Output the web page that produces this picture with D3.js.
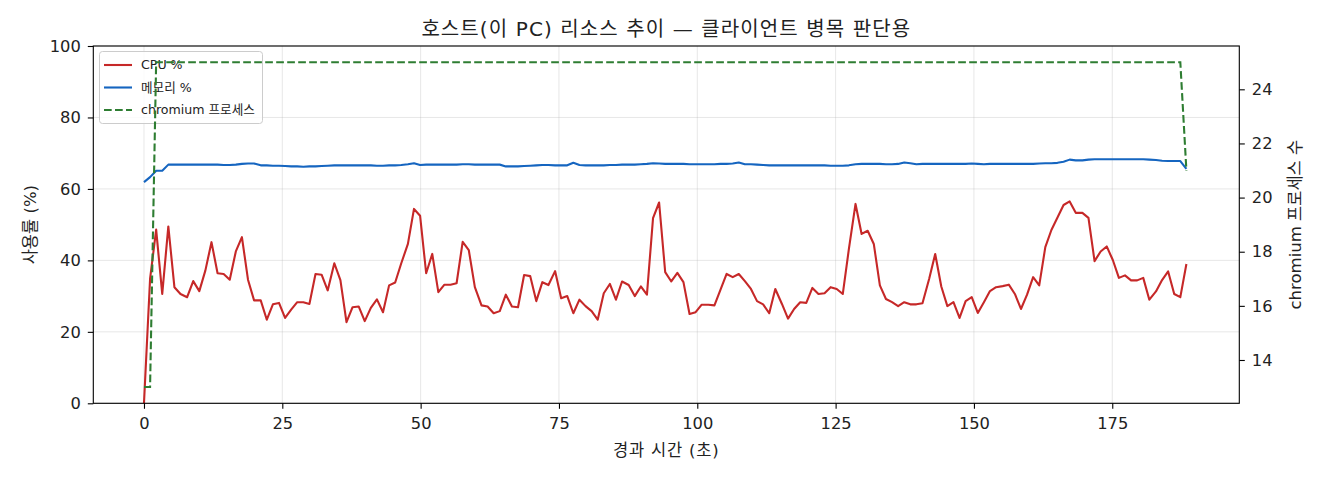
<!DOCTYPE html>
<html><head><meta charset="utf-8">
<script src="https://cdn.jsdelivr.net/npm/d3@7"></script>
<style>
html,body{margin:0;padding:0;background:#fff;}
svg{display:block;}
</style>
</head><body>
<svg id="chart" width="1320" height="480"></svg>
<script>
// elapsed time (s)
const times = [0.0,1.1,2.2,3.3,4.4,5.5,6.6,7.8,8.9,10.0,11.1,12.2,13.3,14.4,15.5,16.6,17.7,18.8,19.9,21.1,
22.2,23.3,24.4,25.5,26.6,27.7,28.8,29.9,31.0,32.1,33.2,34.4,35.5,36.6,37.7,38.8,39.9,41.0,42.1,43.2,
44.3,45.4,46.5,47.7,48.8,49.9,51.0,52.1,53.2,54.3,55.4,56.5,57.6,58.7,59.8,61.0,62.1,63.2,64.3,65.4,
66.5,67.6,68.7,69.8,70.9,72.0,73.1,74.3,75.4,76.5,77.6,78.7,79.8,80.9,82.0,83.1,84.2,85.3,86.4,87.6,
88.7,89.8,90.9,92.0,93.1,94.2,95.3,96.4,97.5,98.6,99.7,100.8,102.0,103.1,104.2,105.3,106.4,107.5,108.6,109.7,
110.8,111.9,113.0,114.1,115.3,116.4,117.5,118.6,119.7,120.8,121.9,123.0,124.1,125.2,126.3,127.4,128.6,129.7,130.8,131.9,
133.0,134.1,135.2,136.3,137.4,138.5,139.6,140.7,141.9,143.0,144.1,145.2,146.3,147.4,148.5,149.6,150.7,151.8,152.9,154.0,
155.2,156.3,157.4,158.5,159.6,160.7,161.8,162.9,164.0,165.1,166.2,167.3,168.4,169.6,170.7,171.8,172.9,174.0,175.1,176.2,
177.3,178.4,179.5,180.6,181.7,182.9,184.0,185.1,186.2,187.3,188.4];

// CPU %
const cpu = [0,34.8,48.6,30.6,49.5,32.5,30.6,29.7,34.2,31.4,37.2,45.1,36.4,36.2,34.6,42.5,46.5,34.6,28.8,28.8,
23.4,27.7,28.1,23.9,26.2,28.3,28.3,27.8,36.2,36.0,31.6,39.2,34.5,22.7,26.9,27.1,23.0,26.7,29.1,25.5,
33.0,33.8,39.2,44.6,54.4,52.5,36.4,41.8,31.1,33.2,33.2,33.6,45.2,42.9,32.5,27.4,27.1,25.2,25.8,30.4,
27.1,26.9,35.9,35.6,28.6,33.9,33.1,37.0,29.4,30.0,25.2,29.0,27.2,25.8,23.4,30.8,33.4,29.0,34.1,33.1,
30.0,32.7,30.4,51.8,56.2,36.7,34.1,36.5,33.9,25.0,25.5,27.6,27.6,27.4,31.8,36.2,35.3,36.2,34.2,32.0,
28.6,27.7,25.2,32.0,27.8,23.7,26.4,28.3,28.1,32.3,30.6,30.8,32.5,32.0,30.6,43.2,55.8,47.4,48.3,44.6,
33.0,29.2,28.3,27.2,28.3,27.7,27.7,28.0,34.8,41.8,32.7,27.2,28.3,23.9,28.6,29.7,25.3,28.3,31.4,32.5,
32.8,33.2,30.6,26.4,30.4,35.3,33.0,43.7,48.5,52.0,55.5,56.5,53.3,53.3,51.9,39.8,42.5,43.9,40.1,35.1,
35.8,34.4,34.4,35.1,29.0,31.3,34.5,36.9,30.6,29.7,39.0];

// Memory %
const mem = [61.9,63.3,65.1,65.1,66.8,66.8,66.8,66.8,66.8,66.8,66.8,66.8,66.8,66.7,66.7,66.8,67.0,67.1,67.1,66.6,
66.6,66.5,66.5,66.4,66.3,66.3,66.2,66.3,66.3,66.4,66.5,66.6,66.6,66.6,66.6,66.6,66.6,66.6,66.5,66.5,
66.6,66.6,66.7,66.9,67.2,66.7,66.8,66.8,66.8,66.8,66.8,66.8,66.9,66.9,66.8,66.8,66.8,66.8,66.8,66.3,
66.3,66.3,66.4,66.5,66.6,66.7,66.7,66.6,66.6,66.6,67.3,66.7,66.6,66.6,66.6,66.6,66.7,66.7,66.8,66.8,
66.8,66.9,67.0,67.2,67.1,67.0,67.0,67.0,67.0,66.9,66.9,66.9,66.9,66.9,67.0,67.0,67.1,67.4,66.9,66.9,
66.8,66.7,66.6,66.6,66.6,66.6,66.6,66.6,66.6,66.6,66.6,66.6,66.5,66.5,66.5,66.6,66.9,67.0,67.0,67.0,
67.0,66.9,66.9,67.0,67.4,67.2,66.9,67.0,67.0,67.0,67.0,67.0,67.0,67.0,67.0,67.1,67.0,66.9,67.0,67.0,
67.0,67.0,67.0,67.0,67.0,67.0,67.1,67.2,67.2,67.3,67.6,68.2,68.0,68.0,68.2,68.3,68.3,68.3,68.3,68.3,
68.3,68.3,68.3,68.3,68.2,68.1,67.9,67.8,67.8,67.8,65.6];

// chromium process count
const procs = [13,13,25,25,25,25,25,25,25,25,25,25,25,25,25,25,25,25,25,25,
25,25,25,25,25,25,25,25,25,25,25,25,25,25,25,25,25,25,25,25,
25,25,25,25,25,25,25,25,25,25,25,25,25,25,25,25,25,25,25,25,
25,25,25,25,25,25,25,25,25,25,25,25,25,25,25,25,25,25,25,25,
25,25,25,25,25,25,25,25,25,25,25,25,25,25,25,25,25,25,25,25,
25,25,25,25,25,25,25,25,25,25,25,25,25,25,25,25,25,25,25,25,
25,25,25,25,25,25,25,25,25,25,25,25,25,25,25,25,25,25,25,25,
25,25,25,25,25,25,25,25,25,25,25,25,25,25,25,25,25,25,25,25,
25,25,25,25,25,25,25,25,25,25,21];

const xTicks = [0,25,50,75,100,125,150,175];
const yLeftTicks = [0,20,40,60,80,100];
const yRightTicks = [14,16,18,20,22,24];

const titleText = "호스트(이 PC) 리소스 추이 — 클라이언트 병목 판단용";
const xLabel = "경과 시간 (초)";
const yLeftLabel = "사용률 (%)";
const yRightLabel = "chromium 프로세스 수";
const legendLabels = ["CPU %", "메모리 %", "chromium 프로세스"];
const colors = {cpu:"#c62828", mem:"#1565c0", procs:"#2e7d32"};

const FONT = "'DejaVu Sans','Noto Sans CJK KR',sans-serif";
const svg = d3.select("#chart");
const L = 93.3, R = 1239.3, T = 46, B = 403.3;

const x = d3.scaleLinear().domain([-9.16, 197.96]).range([L, R]);
const yL = d3.scaleLinear().domain([0, 100]).range([B, T]);
const yR = d3.scaleLinear().domain([12.4, 25.6]).range([B, T]);

// grid
const grid = svg.append("g");
grid.selectAll("line.gx").data(xTicks).join("line")
  .attr("x1", d => x(d)).attr("x2", d => x(d)).attr("y1", T).attr("y2", B)
  .attr("stroke", "#b0b0b0").attr("stroke-opacity", 0.3).attr("stroke-width", 1);
grid.selectAll("line.gy").data(yLeftTicks).join("line")
  .attr("x1", L).attr("x2", R).attr("y1", d => yL(d)).attr("y2", d => yL(d))
  .attr("stroke", "#b0b0b0").attr("stroke-opacity", 0.3).attr("stroke-width", 1);

const idx = d3.range(times.length);
const lineL = key => d3.line().x(i => x(times[i])).y(i => yL(key[i]));
svg.append("path").datum(idx).attr("d", lineL(cpu)).attr("fill", "none")
  .attr("stroke", colors.cpu).attr("stroke-width", 2.1).attr("stroke-linejoin", "round").attr("stroke-linecap", "butt");
svg.append("path").datum(idx).attr("d", lineL(mem)).attr("fill", "none")
  .attr("stroke", colors.mem).attr("stroke-width", 2.1).attr("stroke-linejoin", "round");

// legend (belongs to left axes, under the right axes' line)
const lg = svg.append("g");
lg.append("rect").attr("x", 99.5).attr("y", 51.5).attr("width", 163).attr("height", 72).attr("rx", 3)
  .attr("fill", "#fff").attr("fill-opacity", 0.8).attr("stroke", "#cccccc").attr("stroke-width", 1);
const legendItems = [
  {label: legendLabels[0], color: colors.cpu, dash: null},
  {label: legendLabels[1], color: colors.mem, dash: null},
  {label: legendLabels[2], color: colors.procs, dash: "7.7,3.3"}
];
legendItems.forEach((it, k) => {
  const yy = 65 + k * 22.5;
  lg.append("line").attr("x1", 104).attr("x2", 132).attr("y1", yy).attr("y2", yy)
    .attr("stroke", it.color).attr("stroke-width", 2.1).attr("stroke-dasharray", it.dash);
  lg.append("text").attr("x", 141).attr("y", yy).attr("dy", "0.35em")
    .attr("font-family", FONT).attr("font-size", 12.6).attr("fill", "#222").text(it.label);
});

// process count line on the right axis (drawn above)
svg.append("path").datum(idx)
  .attr("d", d3.line().x(i => x(times[i])).y(i => yR(procs[i])))
  .attr("fill", "none").attr("stroke", colors.procs).attr("stroke-width", 2.1)
  .attr("stroke-dasharray", "7.7,3.3");

// axes
function styleAxis(g) {
  g.select(".domain").remove();
  g.selectAll(".tick line").attr("stroke", "#000").attr("stroke-width", 1.1);
  g.selectAll(".tick text").attr("font-family", FONT).attr("font-size", 16.3).attr("fill", "#222");
}
svg.append("g").attr("transform", `translate(0,${B})`)
  .call(d3.axisBottom(x).tickValues(xTicks).tickSize(5.5).tickPadding(8.5).tickFormat(d3.format("d")))
  .call(styleAxis);
svg.append("g").attr("transform", `translate(${L},0)`)
  .call(d3.axisLeft(yL).tickValues(yLeftTicks).tickSize(5.5).tickPadding(7).tickFormat(d3.format("d")))
  .call(styleAxis);
svg.append("g").attr("transform", `translate(${R},0)`)
  .call(d3.axisRight(yR).tickValues(yRightTicks).tickSize(5.5).tickPadding(7).tickFormat(d3.format("d")))
  .call(styleAxis);

// spines
svg.append("rect").attr("x", L).attr("y", T).attr("width", R - L).attr("height", B - T)
  .attr("fill", "none").attr("stroke", "#000").attr("stroke-width", 1.1);

// labels
svg.append("text").attr("x", (L + R) / 2).attr("y", 36).attr("text-anchor", "middle")
  .attr("font-family", FONT).attr("font-size", 20).attr("letter-spacing", 1.1).attr("fill", "#222").text(titleText);
svg.append("text").attr("x", (L + R) / 2).attr("y", 456).attr("text-anchor", "middle")
  .attr("font-family", FONT).attr("font-size", 16.5).attr("letter-spacing", 0.8).attr("fill", "#222").text(xLabel);
svg.append("text").attr("transform", `translate(36,${(T + B) / 2}) rotate(-90)`).attr("text-anchor", "middle")
  .attr("font-family", FONT).attr("font-size", 16.5).attr("fill", "#222").text(yLeftLabel);
svg.append("text").attr("transform", `translate(1301,${(T + B) / 2}) rotate(-90)`).attr("text-anchor", "middle")
  .attr("font-family", FONT).attr("font-size", 16.5).attr("fill", "#222").text(yRightLabel);
</script>
</body></html>
